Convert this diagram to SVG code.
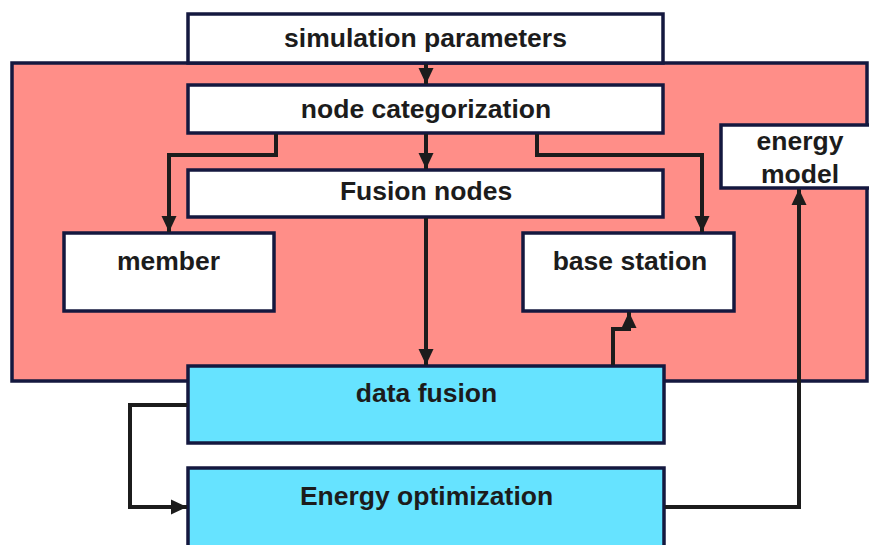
<svg xmlns="http://www.w3.org/2000/svg" width="869" height="545" viewBox="0 0 869 545">
<style>
.box{fill:#ffffff;stroke:#14183f;stroke-width:3.5}
.cyan{fill:#66e3ff;stroke:#14183f;stroke-width:3.5}
.t{font-family:"Liberation Sans",Arial,sans-serif;font-weight:bold;font-size:26.5px;fill:#1c1c1c;text-anchor:middle}
.c{fill:none;stroke:#1c1c1c;stroke-width:4;stroke-linejoin:miter}
</style>
<defs>
<marker id="ah" markerUnits="userSpaceOnUse" markerWidth="16" markerHeight="16" viewBox="0 0 16 16" refX="16" refY="8" orient="auto">
<path d="M0,0.5 L16,8 L0,15.5 Z" fill="#1c1c1c"/>
</marker>
</defs>
<rect width="869" height="545" fill="#ffffff"/>
<g id="container">
<rect x="12" y="63" width="855" height="318" fill="#ff8e88" stroke="#14183f" stroke-width="3.5"/>
</g>
<g id="sim">
<rect class="box" x="188" y="14" width="475" height="49"/>
<text class="t" x="425.5" y="47">simulation parameters</text>
</g>
<g id="nodecat">
<rect class="box" x="188" y="85" width="475" height="48"/>
<text class="t" x="426" y="118">node categorization</text>
</g>
<g id="fusionnodes">
<rect class="box" x="188" y="170" width="475" height="47"/>
<text class="t" x="426" y="200">Fusion nodes</text>
</g>
<g id="member">
<rect class="box" x="64" y="233" width="210" height="78"/>
<text class="t" x="168.5" y="270">member</text>
</g>
<g id="basestation">
<rect class="box" x="523" y="233" width="211" height="78"/>
<text class="t" x="630" y="270">base station</text>
</g>
<g id="energymodel">
<rect class="box" x="721" y="125" width="155" height="63"/>
<text class="t" x="800" y="150">energy</text>
<text class="t" x="800" y="183">model</text>
</g>
<g id="datafusion">
<rect class="cyan" x="188" y="366" width="476" height="77"/>
<text class="t" x="426.5" y="402">data fusion</text>
</g>
<g id="energyopt">
<rect class="cyan" x="188" y="468" width="476" height="85"/>
<text class="t" x="426.5" y="505">Energy optimization</text>
</g>
<g id="connectors">
<path class="c" d="M426,64 V84" marker-end="url(#ah)"/>
<path class="c" d="M426,134 V169" marker-end="url(#ah)"/>
<path class="c" d="M276,134 V155 H169 V232" marker-end="url(#ah)"/>
<path class="c" d="M537,134 V155 H702 V232" marker-end="url(#ah)"/>
<path class="c" d="M426,218 V365" marker-end="url(#ah)"/>
<path class="c" d="M613,365 V329 H629 V312" marker-end="url(#ah)"/>
<path class="c" d="M187,405 H130 V507 H187" marker-end="url(#ah)"/>
<path class="c" d="M665,507 H799 V189" marker-end="url(#ah)"/>
</g>
</svg>
